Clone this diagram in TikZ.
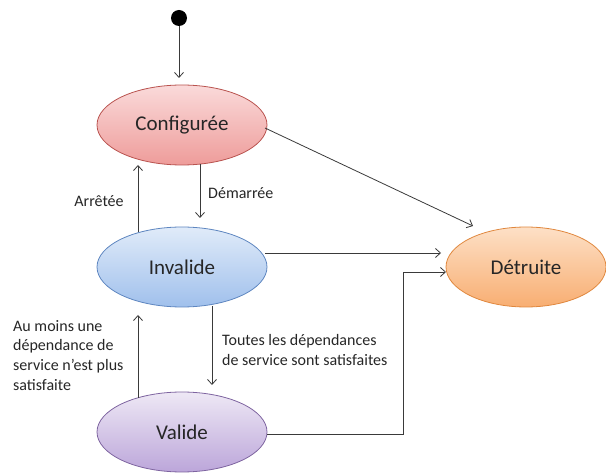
\documentclass[tikz,border=0pt]{standalone}
\usepackage{fontspec}
\setmainfont{Carlito}
\usetikzlibrary{arrows.meta,shapes.geometric}
\definecolor{txt}{HTML}{262626}
\definecolor{ln}{HTML}{3A3A3A}
\definecolor{cT}{HTML}{FADADA}\definecolor{cB}{HTML}{EE9C9A}\definecolor{cD}{HTML}{B9534F}
\definecolor{iT}{HTML}{E0EBF9}\definecolor{iB}{HTML}{A0C0EC}\definecolor{iD}{HTML}{5E86C0}
\definecolor{vT}{HTML}{EEE8F5}\definecolor{vB}{HTML}{BCA6DA}\definecolor{vD}{HTML}{7E64A0}
\definecolor{dT}{HTML}{FDE0C6}\definecolor{dB}{HTML}{F8AE72}\definecolor{dD}{HTML}{E0873D}
\begin{document}
\begin{tikzpicture}[x=1pt,y=-1pt,
  state/.style={ellipse,minimum width=170pt,minimum height=80pt,line width=0.8pt,font=\fontsize{21}{24}\selectfont,text=txt},
  conf/.style={state,draw=cD,top color=cT,bottom color=cB},
  inval/.style={state,draw=iD,top color=iT,bottom color=iB},
  val/.style={state,draw=vD,top color=vT,bottom color=vB},
  detr/.style={state,minimum width=160pt,draw=dD,top color=dT,bottom color=dB},
  conn/.style={draw=ln,line width=0.8pt,-{Straight Barb[length=5pt,width=9pt]}},
  lab/.style={font=\fontsize{16}{19.7}\selectfont,text=txt,inner sep=0pt}]
\useasboundingbox (0,0) rectangle (606,473);
\node[circle,fill=black,minimum size=16pt,inner sep=0pt] (init) at (179,18) {};
\node[conf] (c) at (182,125) {Configurée};
\node[inval] (i) at (182,267) {Invalide};
\node[val] (v) at (182,432) {Valide};
\node[detr] (d) at (526,267) {Détruite};
\coordinate (a0) at (179,78);
\draw[conn] (init) -- (a0);
% Arretee
\coordinate (ar1) at (138,232);
\coordinate (ar2) at (138,165);
\draw[conn] (ar1) -- (ar2);
\node[lab] (tar) at (99,201) {Arrêtée};
% Demarree
\coordinate (dm1) at (200,164);
\coordinate (dm2) at (200,218);
\draw[conn] (dm1) -- (dm2);
\node[lab,anchor=west] (tdm) at (208,193) {Démarrée};
% to Detruite
\coordinate (cd1) at (265,128);
\coordinate (cd2) at (473,226);
\draw[conn] (cd1) -- (cd2);
\coordinate (id1) at (265,253);
\coordinate (id2) at (441,253);
\draw[conn] (id1) -- (id2);
\coordinate (vd1) at (267,434);
\coordinate (vd2) at (446,272);
\draw[conn] (vd1) -| (403,272) -- (vd2);
% Valide <-> Invalide
\coordinate (vi1) at (138,398);
\coordinate (vi2) at (138,315);
\draw[conn] (vi1) -- (vi2);
\coordinate (iv1) at (212,306);
\coordinate (iv2) at (212,385);
\draw[conn] (iv1) -- (iv2);
\node[lab,anchor=north west,align=left] (tam) at (13,320) {Au moins une\\dépendance de\\service n’est plus\\satisfaite};
\node[lab,anchor=north west,align=left] (tts) at (222,334) {Toutes les dépendances\\de service sont satisfaites};
\end{tikzpicture}
\end{document}
